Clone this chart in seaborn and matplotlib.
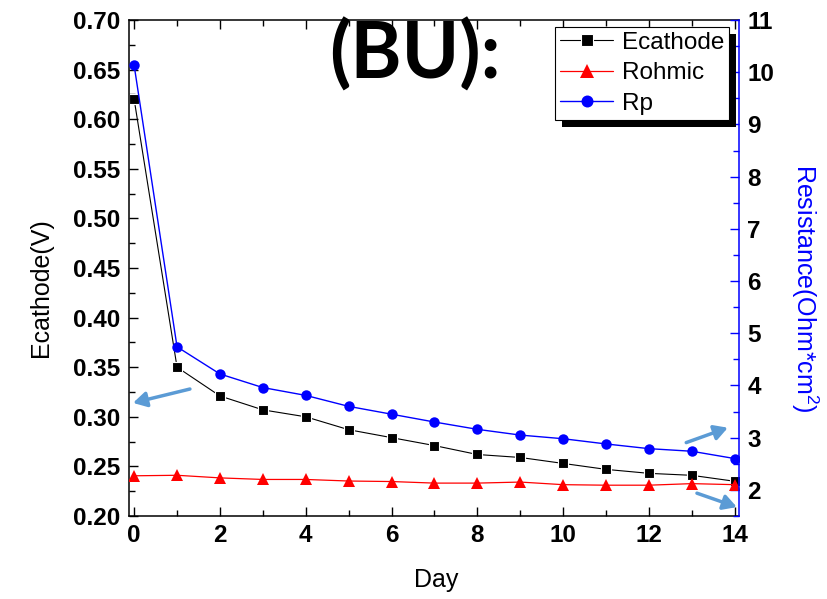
import matplotlib
matplotlib.use('Agg')
import matplotlib.pyplot as plt
import seaborn as sns
from matplotlib.patches import Rectangle
from matplotlib.ticker import MultipleLocator, FormatStrFormatter
from matplotlib.transforms import IdentityTransform

# valeurs
days = list(range(15))
ecathode = [0.620, 0.350, 0.321, 0.307, 0.300, 0.287, 0.279, 0.271, 0.262, 0.259,
            0.253, 0.247, 0.243, 0.241, 0.235]
rohmic = [2.27, 2.28, 2.23, 2.20, 2.20, 2.17, 2.16, 2.13, 2.13, 2.15,
          2.10, 2.09, 2.09, 2.12, 2.10]
rp = [10.13, 4.74, 4.22, 3.96, 3.81, 3.60, 3.45, 3.30, 3.16, 3.05,
      2.98, 2.88, 2.79, 2.74, 2.60]

sns.set_style('ticks')
plt.rcParams['font.family'] = ['Liberation Sans', 'DejaVu Sans']
plt.rcParams['font.weight'] = 'bold'
plt.rcParams['mathtext.default'] = 'regular'
for k in ['text.color', 'axes.labelcolor', 'xtick.color', 'ytick.color', 'axes.edgecolor']:
    plt.rcParams[k] = 'black'

fig = plt.figure(figsize=(8.28, 5.99), dpi=100)
ax = fig.add_subplot(111)
fig.subplots_adjust(left=129/828, right=739/828, bottom=1-516/599, top=1-20/599)
ax2 = ax.twinx()

# courbes
sns.lineplot(x=days, y=ecathode, ax=ax, color='black', marker='s', markersize=7.5,
             markeredgecolor='white', markeredgewidth=0.8, linewidth=0.8, label='Ecathode')
sns.lineplot(x=days, y=rohmic, ax=ax2, color='red', marker='^', markersize=8.5,
             markeredgewidth=0, linewidth=0.9, label='Rohmic')
sns.lineplot(x=days, y=rp, ax=ax2, color='blue', marker='o', markersize=7.5,
             markeredgewidth=0, linewidth=1.0, label='Rp')

# axes
ax.set_xlim(-0.12, 14.1)
ax.set_ylim(0.20, 0.70)
ax2.set_ylim(1.5, 11)
ax.xaxis.set_major_locator(MultipleLocator(2))
ax.xaxis.set_minor_locator(MultipleLocator(1))
ax.yaxis.set_major_locator(MultipleLocator(0.05))
ax.yaxis.set_minor_locator(MultipleLocator(0.025))
ax.yaxis.set_major_formatter(FormatStrFormatter('%.2f'))
ax2.yaxis.set_major_locator(MultipleLocator(1))
ax2.yaxis.set_minor_locator(MultipleLocator(0.5))

ax.tick_params(axis='both', which='both', direction='in', labelsize=17.5, width=1,
               top=True, right=False, pad=6, colors='black')
ax.tick_params(which='major', length=6.5)
ax.tick_params(which='minor', length=4.5)
ax2.tick_params(axis='y', which='both', direction='in', labelsize=17.5, width=1,
                colors='blue', labelcolor='black', pad=6)
ax2.tick_params(which='major', length=6.5)
ax2.tick_params(which='minor', length=4.5)

for s in ['left', 'bottom', 'top']:
    ax.spines[s].set_color('black')
    ax.spines[s].set_linewidth(1.1)
    ax2.spines[s].set_visible(False)
ax.spines['right'].set_visible(False)
ax2.spines['right'].set_color('blue')
ax2.spines['right'].set_linewidth(1.1)

ax.set_xlabel('Day', fontsize=18, fontweight='normal', va='center')
ax.xaxis.set_label_coords(0.503, -0.129)
ax.set_ylabel('Ecathode(V)', fontsize=18, fontweight='normal', va='center')
ax.yaxis.set_label_coords(-0.144, 0.46)
ax2.set_ylabel('Resistance(Ohm*cm$^2$)', fontsize=18, fontweight='normal',
               color='blue', rotation=270, va='center')
ax2.yaxis.set_label_coords(1.107, 0.458)

# fleches
arrow = dict(arrowstyle='-|>,head_length=0.8,head_width=0.45', color='#5B9BD5',
             lw=2.5, shrinkA=0, shrinkB=0)
ax.annotate('', xy=(-0.027, 0.314), xytext=(1.30, 0.328), arrowprops=arrow, annotation_clip=False)
ax.annotate('', xy=(13.84, 0.289), xytext=(12.87, 0.274), arrowprops=arrow, annotation_clip=False)
ax.annotate('', xy=(14.05, 0.209), xytext=(13.12, 0.223), arrowprops=arrow, annotation_clip=False)

# legende
h1, l1 = ax.get_legend_handles_labels()
h2, l2 = ax2.get_legend_handles_labels()
if ax.get_legend():
    ax.get_legend().remove()
leg = ax2.legend(h1 + h2, l1 + l2, loc='upper right', bbox_to_anchor=(729/828, 1-27/599),
                 bbox_transform=fig.transFigure, borderaxespad=0, fancybox=False,
                 edgecolor='black', framealpha=1, prop={'size': 17.5, 'weight': 'normal'},
                 handlelength=2.2, handletextpad=0.35, labelspacing=0.35, borderpad=0.2,
                 markerscale=1.15)
leg.get_frame().set_linewidth(0.8)
for t in leg.get_texts():
    t.set_color('black')

fig.text(415/828, 1-55/599, '(BU):', fontsize=56, fontweight='bold', family='Lato',
         color='black', ha='center', va='center', zorder=10)

fig.canvas.draw()
bb = leg.get_frame().get_window_extent()
ax2.add_artist(Rectangle((bb.x0 + 7, bb.y0 - 7), bb.width, bb.height, transform=IdentityTransform(),
                         facecolor='black', edgecolor='none', zorder=4, clip_on=False))

plt.savefig('out.png', dpi=100)
